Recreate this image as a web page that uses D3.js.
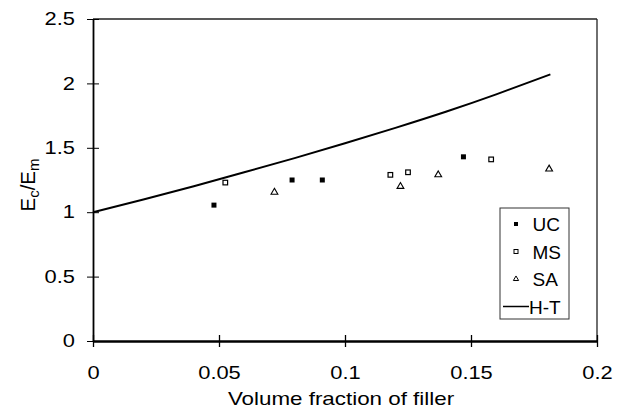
<!DOCTYPE html>
<html>
<head>
<meta charset="utf-8">
<script src="https://cdn.jsdelivr.net/npm/d3@7"></script>
<style>
  body { margin: 0; background: #fff; }
  text { font-family: "Liberation Sans", Arial, sans-serif; fill: #000; }
</style>
</head>
<body>
<svg id="chart" width="625" height="408"></svg>
<script>
// values
var ucX = [0.048, 0.079, 0.091, 0.147];
var ucY = [1.055, 1.25, 1.25, 1.43];
var msX = [0.0525, 0.118, 0.125, 0.158];
var msY = [1.23, 1.29, 1.31, 1.41];
var saX = [0.072, 0.122, 0.137, 0.181];
var saY = [1.155, 1.20, 1.29, 1.335];
var htX = [0, 0.02, 0.04, 0.06, 0.08, 0.10, 0.12, 0.14, 0.16, 0.1815];
var htY = [1.00, 1.098, 1.202, 1.31, 1.42, 1.535, 1.655, 1.78, 1.915, 2.07];
var xTicks = [0, 0.05, 0.1, 0.15, 0.2];
var xTickLabels = ["0", "0.05", "0.1", "0.15", "0.2"];
var yTicks = [0, 0.5, 1, 1.5, 2, 2.5];
var yTickLabels = ["0", "0.5", "1", "1.5", "2", "2.5"];
var legendNames = ["UC", "MS", "SA", "H-T"];

var margin = {top: 19, right: 28, bottom: 67, left: 93};
var width = 625 - margin.left - margin.right;
var height = 408 - margin.top - margin.bottom;

// the original lettering is wider than Arial, stretch it around its anchor
function stretch(sel, k) {
  sel.each(function() {
    var t = d3.select(this);
    var ax = +t.attr("x") || 0;
    t.attr("transform", "translate(" + ax + ",0) scale(" + k + ",1) translate(" + (-ax) + ",0)");
  });
}

var svg = d3.select("#chart");
var chart = svg.append("g")
  .attr("transform", "translate(" + margin.left + "," + margin.top + ")");

var xScale = d3.scaleLinear().domain([0, 0.2]).range([0, width]);
var yScale = d3.scaleLinear().domain([0, 2.5]).range([height, 0]);

// frame (top and right)
chart.append("line")
  .attr("x1", 0).attr("y1", 0).attr("x2", width).attr("y2", 0)
  .attr("stroke", "#222").attr("stroke-width", 1.3);
chart.append("line")
  .attr("x1", width).attr("y1", 0).attr("x2", width).attr("y2", height)
  .attr("stroke", "#222").attr("stroke-width", 1.3);

// y axis
var yAxis = chart.append("g")
  .call(d3.axisLeft(yScale)
    .tickValues(yTicks)
    .tickFormat(function(d, i) { return yTickLabels[i]; })
    .tickSizeInner(6)
    .tickSizeOuter(0)
    .tickPadding(12));
yAxis.select(".domain").attr("stroke", "#000").attr("stroke-width", 1.8);
yAxis.selectAll(".tick line").attr("x2", 6).attr("x1", -6).attr("stroke-width", 1);
yAxis.selectAll("text")
  .style("font-size", "17.5px")
  .style("font-family", "Liberation Sans, Arial, sans-serif")
  .call(stretch, 1.25);

// x axis
var xAxis = chart.append("g")
  .attr("transform", "translate(0," + height + ")")
  .call(d3.axisBottom(xScale)
    .tickValues(xTicks)
    .tickFormat(function(d, i) { return xTickLabels[i]; })
    .tickSizeInner(6)
    .tickSizeOuter(0)
    .tickPadding(20));
xAxis.select(".domain").attr("stroke", "#000").attr("stroke-width", 2.4);
xAxis.selectAll(".tick line").attr("y1", -6).attr("y2", 6).attr("stroke-width", 1.3);
xAxis.selectAll("text")
  .style("font-size", "17.5px")
  .style("font-family", "Liberation Sans, Arial, sans-serif")
  .call(stretch, 1.25);

// H-T curve
var line = d3.line()
  .x(function(d) { return xScale(d[0]); })
  .y(function(d) { return yScale(d[1]); })
  .curve(d3.curveNatural);

chart.append("path")
  .datum(d3.zip(htX, htY))
  .attr("d", line)
  .attr("fill", "none")
  .attr("stroke", "#000")
  .attr("stroke-width", 2);

// markers
chart.selectAll(".uc")
  .data(d3.zip(ucX, ucY))
  .enter().append("rect")
  .attr("class", "uc")
  .attr("x", function(d) { return xScale(d[0]) - 2.5; })
  .attr("y", function(d) { return yScale(d[1]) - 2.5; })
  .attr("width", 5).attr("height", 5)
  .attr("fill", "#000");

chart.selectAll(".ms")
  .data(d3.zip(msX, msY))
  .enter().append("rect")
  .attr("class", "ms")
  .attr("x", function(d) { return xScale(d[0]) - 2.3; })
  .attr("y", function(d) { return yScale(d[1]) - 2.3; })
  .attr("width", 4.6).attr("height", 4.6)
  .attr("fill", "#fff").attr("stroke", "#000").attr("stroke-width", 1.2);

var tri = d3.symbol().type(d3.symbolTriangle).size(20);
chart.selectAll(".sa")
  .data(d3.zip(saX, saY))
  .enter().append("path")
  .attr("class", "sa")
  .attr("transform", function(d) { return "translate(" + xScale(d[0]) + "," + yScale(d[1]) + ")"; })
  .attr("d", tri)
  .attr("fill", "#fff").attr("stroke", "#000").attr("stroke-width", 1.1);

// legend
var legend = svg.append("g").attr("transform", "translate(500,208)");
legend.append("rect")
  .attr("x", 0).attr("y", 0).attr("width", 69).attr("height", 111)
  .attr("fill", "#fff").attr("stroke", "#333").attr("stroke-width", 1);

legendNames.forEach(function(name, i) {
  var cy = 16 + i * 27.5;
  var g = legend.append("g").attr("transform", "translate(0," + cy + ")");
  if (i == 0) {
    g.append("rect").attr("x", 14).attr("y", -2).attr("width", 4).attr("height", 4).attr("fill", "#000");
  } else if (i == 1) {
    g.append("rect").attr("x", 14).attr("y", -2).attr("width", 4).attr("height", 4)
      .attr("fill", "#fff").attr("stroke", "#000").attr("stroke-width", 1);
  } else if (i == 2) {
    g.append("path").attr("transform", "translate(16,0)")
      .attr("d", d3.symbol().type(d3.symbolTriangle).size(12))
      .attr("fill", "#fff").attr("stroke", "#000").attr("stroke-width", 1);
  } else {
    g.append("line").attr("x1", 3).attr("x2", 29).attr("y1", 0).attr("y2", 0)
      .attr("stroke", "#000").attr("stroke-width", 1.5);
  }
  g.append("text")
    .attr("x", i == 3 ? 29 : 32.5)
    .attr("y", 7)
    .style("font-size", "19px")
    .text(name);
});

// y label
var ylab = svg.append("text")
  .attr("transform", "translate(35,185) rotate(-90)")
  .attr("text-anchor", "middle")
  .style("font-size", "20.5px");
ylab.append("tspan").text("E");
ylab.append("tspan").attr("dy", 4).style("font-size", "15px").text("c");
ylab.append("tspan").attr("dy", -4).text("/E");
ylab.append("tspan").attr("dy", 4).style("font-size", "15px").text("m");

// x label
svg.append("text")
  .attr("x", 341)
  .attr("y", 405)
  .attr("text-anchor", "middle")
  .style("font-size", "18.5px")
  .text("Volume fraction of filler")
  .call(stretch, 1.21);
</script>
</body>
</html>
